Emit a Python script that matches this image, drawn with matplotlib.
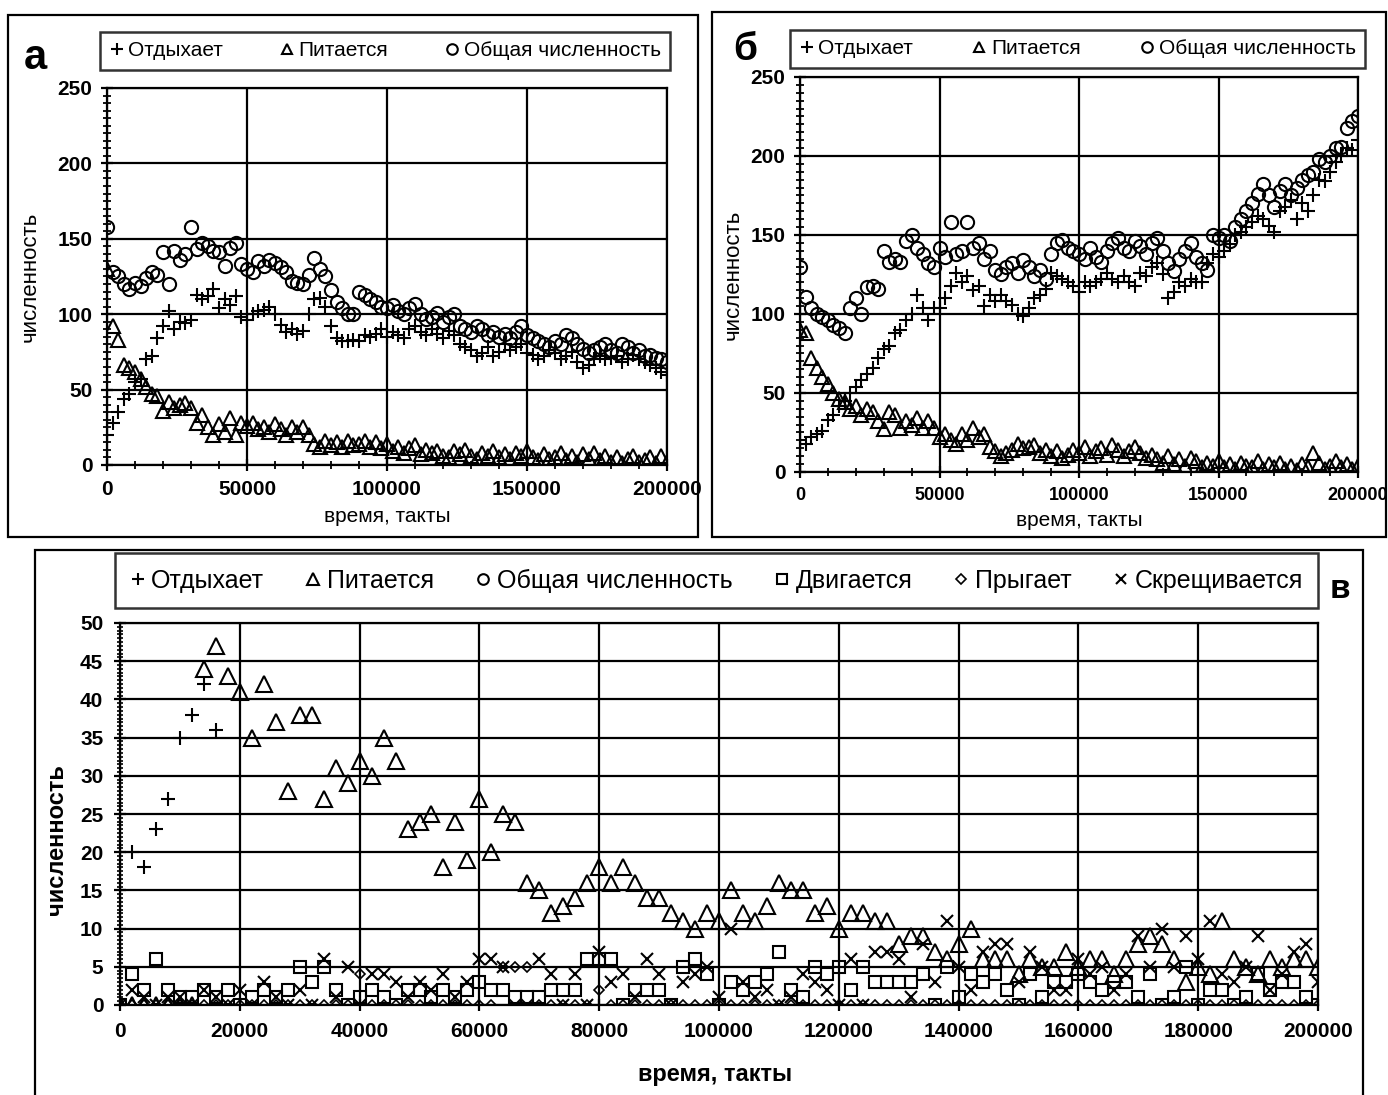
import numpy as np
import matplotlib
matplotlib.use('Agg')
import matplotlib.pyplot as plt
from matplotlib.patches import Rectangle
from matplotlib.ticker import MultipleLocator

plt.rcParams['font.family'] = ['Liberation Sans', 'DejaVu Sans']

nan = np.nan

# time axis, 2000-tick sampling
time = list(range(0, 200001, 2000))

# ---- panel a ----
a_rest = [20, 28, 35, 44, 47, 55, 57, 70, 72, 84, 92, 102, 90, 95, 94, 96, 113, 110, 112, 117,
          104, 110, 106, 112, 98, 96, 100, 102, 103, 105, 100, 93, 88, 90, 87, 89, 100, 110, 111, 105,
          92, 84, 82, 82, 83, 82, 86, 85, 87, 90, 85, 88, 86, 84, 90, 92, 88, 86, 90, 87,
          84, 89, 86, 80, 78, 76, 72, 74, 78, 72, 75, 80, 76, 78, 80, 74, 73, 70, 72, 76,
          74, 70, 72, 75, 68, 64, 66, 70, 72, 70, 71, 72, 68, 70, 73, 70, 68, 66, 64, 62, 60]
a_feed = [130, 92, 83, 66, 64, 62, 57, 52, 47, 46, 36, 42, 38, 40, 41, 38, 28, 33, 25, 20,
          27, 22, 31, 20, 28, 26, 28, 24, 25, 22, 27, 24, 20, 25, 22, 25, 20, 14, 12, 16,
          13, 15, 12, 16, 13, 14, 16, 12, 15, 11, 14, 9, 12, 8, 11, 13, 7, 10, 8, 9,
          6, 5, 9, 7, 10, 6, 4, 8, 6, 9, 5, 7, 4, 8, 6, 9, 5, 3, 7, 4,
          5, 8, 3, 6, 2, 7, 4, 8, 3, 6, 2, 5, 1, 4, 6, 2, 3, 5, 1, 6, 2]
a_total = [158, 128, 125, 120, 117, 121, 119, 124, 128, 126, 141, 120, 142, 136, 140, 158, 143, 147, 145, 142,
           141, 132, 144, 147, 133, 130, 128, 135, 132, 136, 134, 131, 128, 122, 121, 120, 126, 137, 130, 125,
           116, 108, 104, 100, 100, 115, 113, 110, 108, 105, 104, 106, 102, 100, 104, 107, 100, 97, 98, 101,
           95, 98, 100, 92, 90, 88, 92, 90, 86, 88, 85, 87, 84, 88, 92, 86, 84, 82, 80, 78,
           82, 80, 86, 84, 80, 77, 74, 76, 78, 80, 76, 74, 80, 78, 74, 76, 72, 73, 71, 70, 68]

# ---- panel b ----
b_rest = [20, 18, 22, 24, 26, 33, 36, 42, 45, 50, 54, 58, 62, 66, 72, 78, 80, 88, 90, 96,
          100, 112, 104, 96, 104, 104, 110, 118, 126, 120, 124, 115, 118, 105, 112, 108, 112, 108, 106, 100,
          99, 104, 110, 112, 116, 126, 124, 122, 120, 118, 114, 120, 118, 120, 122, 126, 122, 120, 124, 120,
          118, 126, 124, 130, 132, 125, 110, 114, 120, 118, 122, 120, 120, 132, 138, 136, 140, 144, 150, 152,
          155, 158, 162, 160, 156, 152, 165, 168, 172, 160, 170, 165, 175, 185, 184, 190, 196, 200, 205, 204, 210]
b_feed = [90, 88, 72, 66, 60, 56, 50, 46, 44, 40, 42, 36, 40, 38, 32, 27, 38, 36, 28, 32,
          30, 34, 28, 32, 28, 22, 24, 20, 18, 24, 20, 28, 22, 24, 16, 13, 10, 12, 14, 18,
          15, 16, 17, 12, 14, 10, 13, 9, 11, 14, 12, 16, 10, 13, 15, 11, 17, 14, 10, 13,
          16, 12, 9, 11, 8, 6, 10, 5, 8, 4, 9, 7, 3, 6, 4, 7, 3, 5, 2, 6,
          4, 3, 7, 2, 5, 3, 6, 2, 4, 1, 5, 3, 12, 6, 2, 4, 7, 3, 5, 2, 4]
b_total = [130, 111, 104, 100, 98, 96, 93, 91, 88, 104, 110, 100, 117, 118, 116, 140, 133, 135, 133, 146,
           150, 142, 138, 132, 130, 142, 136, 158, 138, 140, 158, 142, 145, 135, 140, 128, 125, 130, 132, 126,
           134, 130, 124, 128, 122, 138, 145, 147, 142, 140, 138, 135, 142, 136, 133, 140, 145, 148, 142, 140,
           146, 143, 138, 145, 148, 140, 132, 127, 135, 140, 145, 136, 132, 128, 150, 148, 150, 146, 155, 160,
           165, 170, 176, 182, 175, 168, 178, 182, 175, 180, 185, 188, 190, 198, 196, 200, 205, 206, 218, 222, 225]

# ---- panel c ----
c_rest = [nan, 20, 18, 23, 27, 35, 38, 42, 36] + [nan] * 92
c_feed = [0, 0, 0, 0, 0, 0, 0, 44, 47, 43, 41, 35, 42, 37, 28, 38, 38, 27, 31, 29,
          32, 30, 35, 32, 23, 24, 25, 18, 24, 19, 27, 20, 25, 24, 16, 15, 12, 13, 14, 16,
          18, 16, 18, 16, 14, 14, 12, 11, 10, 12, 11, 15, 12, 11, 13, 16, 15, 15, 12, 13,
          10, 12, 12, 11, 11, 8, 9, 9, 7, 6, 8, 10, 6, 6, 6, 4, 6, 5, 5, 7,
          5, 6, 6, 4, 6, 8, 9, 8, 6, 3, 5, 4, 11, 6, 5, 4, 6, 5, 6, 6, 5]
c_total_x = []
c_total = []
c_move = [0, 4, 2, 6, 2, 1, 1, 2, 1, 2, 0, 1, 2, 1, 2, 5, 3, 5, 2, 0,
          1, 2, 1, 0, 2, 2, 1, 2, 1, 2, 3, 2, 2, 1, 1, 1, 2, 2, 2, 6,
          6, 6, 0, 2, 2, 2, 0, 5, 6, 4, 0, 3, 2, 3, 4, 7, 2, 1, 5, 4,
          5, 2, 5, 3, 3, 3, 3, 4, 0, 5, 1, 4, 3, 4, 2, 0, 4, 1, 3, 3,
          4, 3, 2, 3, 3, 1, 4, 0, 1, 5, 0, 2, 2, 0, 1, 4, 2, 3, 3, 1, 0]
c_jump = [0, 0, 0, 0, 0, 0, 0, 0, 0, 0, 0, 0, 0, 0, 0, 0, 0, 0, 0, 0,
          4, 0, 0, 0, 0, 0, 0, 0, 0, 0, 0, 0, 5, 5, 5, 0, 0, 0, 0, 0,
          2, 0, 0, 0, 0, 0, 0, 0, 0, 0, 0, 0, 0, 0, 0, 0, 0, 0, 0, 0,
          0, 0, 0, 0, 0, 0, 0, 0, 0, 0, 0, 0, 0, 0, 0, 0, 0, 0, 0, 0,
          0, 0, 0, 0, 0, 0, 0, 0, 0, 0, 0, 0, 0, 0, 0, 0, 0, 0, 0, 0, 0]
c_cross = [0, 2, 1, 0, 1, 1, 0, 2, 1, 0, 2, 0, 3, 1, 0, 2, 0, 6, 1, 5,
           0, 4, 4, 3, 1, 3, 2, 4, 1, 3, 6, 6, 5, 0, 0, 6, 4, 0, 4, 0,
           7, 3, 4, 1, 6, 4, 0, 3, 4, 5, 1, 10, 3, 1, 2, 0, 1, 4, 3, 2,
           0, 6, 0, 7, 7, 6, 1, 8, 3, 11, 5, 2, 7, 8, 8, 3, 7, 5, 2, 2,
           6, 4, 5, 2, 4, 9, 5, 10, 5, 9, 6, 11, 4, 3, 5, 9, 2, 4, 7, 8, 3]

labels3 = ['Отдыхает', 'Питается', 'Общая численность']
labels6 = labels3 + ['Двигается', 'Прыгает', 'Скрещивается']

W, H = 1388, 1095
fig = plt.figure(figsize=(W / 100, H / 100), dpi=100)


def fx(px):
    return px / W


def fy(py):
    return 1 - py / H


def pts(ax, x, y, marker, ms, mew=1.5):
    line, = ax.plot(x, y, ls='none', marker=marker, ms=ms, mfc='none',
                    mec='black', mew=mew)
    return line


def frame(x0, y0, x1, y1):
    fig.patches.append(Rectangle((fx(x0), fy(y1)), fx(x1 - x0), (y1 - y0) / H,
                                 transform=fig.transFigure, fill=False,
                                 ec='black', lw=1.6))


def small_panel(l, t, r, b, rest, feed, total, leg_box, ylab_x, xlab_y, xtick_size):
    ax = fig.add_axes([fx(l), fy(b), fx(r - l), (b - t) / H])
    h1 = pts(ax, time, rest, '+', 10.5)
    h2 = pts(ax, time, feed, '^', 9.5)
    h3 = pts(ax, time, total, 'o', 9.5)
    ax.set_xlim(0, 200000)
    ax.set_ylim(0, 250)
    ax.set_xticks(range(0, 200001, 50000))
    ax.set_yticks(range(0, 251, 50))
    ax.xaxis.set_minor_locator(MultipleLocator(10000))
    ax.yaxis.set_minor_locator(MultipleLocator(5))
    ax.grid(True, which='major', color='black', lw=1.6)
    ax.tick_params(which='major', direction='inout', length=9, width=1.6,
                   labelsize=15, pad=6)
    ax.tick_params(axis='x', which='major', labelsize=xtick_size)
    ax.tick_params(which='minor', direction='inout', length=6, width=1.3)
    for t_ in ax.get_xticklabels() + ax.get_yticklabels():
        t_.set_fontweight('bold')
    for s in ax.spines.values():
        s.set_linewidth(1.6)
    lx0, ly0, lx1, ly1 = leg_box
    leg = ax.legend([h1, h2, h3], labels3, loc='center',
                    bbox_to_anchor=(fx(lx0), fy(ly1), fx(lx1 - lx0), (ly1 - ly0) / H),
                    bbox_transform=fig.transFigure, ncol=3, mode='expand',
                    fancybox=False, edgecolor='black', fontsize=15,
                    handlelength=0.7, handletextpad=0.2, borderaxespad=0,
                    borderpad=0.45, markerscale=0.8, columnspacing=1.0)
    leg.get_frame().set_linewidth(1.8)
    fig.text(fx(ylab_x), fy((t + b) / 2), 'численность', rotation=90,
             ha='center', va='center', fontsize=16)
    fig.text(fx((l + r) / 2), fy(xlab_y), 'время, такты', ha='center',
             va='center', fontsize=15)
    return ax


# outer frames
frame(8, 15, 698, 537)
frame(712, 12, 1386, 537)
frame(35, 550, 1363, 1100)

small_panel(107, 88, 667, 465, a_rest, a_feed, a_total,
            (100, 30, 670, 72), 30, 517, 15)
small_panel(800, 77, 1358, 472, b_rest, b_feed, b_total,
            (790, 30, 1365, 68), 733, 520, 13)

fig.text(fx(35), fy(58), 'а', ha='center', va='center', fontsize=30,
         fontweight='bold')
fig.text(fx(745), fy(50), 'б', ha='center', va='center', fontsize=28,
         fontweight='bold')

# ---- panel c ----
axc = fig.add_axes([fx(120), fy(1005), fx(1318 - 120), (1005 - 623) / H])
hc1 = pts(axc, time, c_rest, '+', 10.5)
hc2 = pts(axc, time, c_feed, '^', 11)
hc3 = pts(axc, c_total_x, c_total, 'o', 9)
hc4 = pts(axc, time, c_move, 's', 9)
hc5 = pts(axc, time, c_jump, 'D', 5.5, 1.2)
hc6 = pts(axc, time, c_cross, 'x', 8.5)
axc.set_xlim(0, 200000)
axc.set_ylim(0, 50)
axc.set_xticks(range(0, 200001, 20000))
axc.set_yticks(range(0, 51, 5))
axc.yaxis.set_minor_locator(MultipleLocator(0.5))
axc.grid(True, which='major', color='black', lw=1.6)
axc.tick_params(which='major', direction='inout', length=8, width=1.6,
                labelsize=15, pad=8)
axc.tick_params(which='minor', direction='inout', length=5, width=1.2)
for t_ in axc.get_xticklabels() + axc.get_yticklabels():
    t_.set_fontweight('bold')
for s in axc.spines.values():
    s.set_linewidth(1.6)
legc = axc.legend([hc1, hc2, hc3, hc4, hc5, hc6], labels6, loc='center',
                  bbox_to_anchor=(fx(115), fy(608), fx(1318 - 115), (608 - 553) / H),
                  bbox_transform=fig.transFigure, ncol=6, mode='expand',
                  fancybox=False, edgecolor='black', fontsize=18,
                  handlelength=0.6, handletextpad=0.25, borderaxespad=0,
                  borderpad=0.6, markerscale=0.85, columnspacing=0.8)
legc.get_frame().set_linewidth(1.8)
fig.text(fx(57), fy(840), 'численность', rotation=90, ha='center', va='center',
         fontsize=17, fontweight='bold')
fig.text(fx(715), fy(1075), 'время, такты', ha='center', va='center',
         fontsize=17, fontweight='bold')
fig.text(fx(1340), fy(590), 'в', ha='center', va='center', fontsize=24,
         fontweight='bold')

fig.savefig('out.png', dpi=100)
